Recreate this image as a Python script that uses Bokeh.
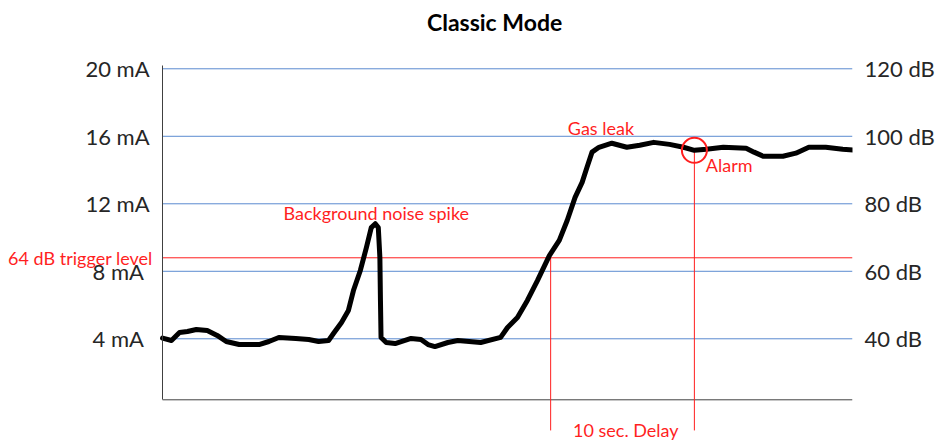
from bokeh.plotting import figure
from bokeh.models import (Range1d, LinearAxis, FixedTicker, Label)
from bokeh.embed import file_html
from bokeh.resources import INLINE

# ---- data ----
t_sec = [0, 0.62, 1.18, 1.73, 2.35, 3.11, 3.80, 4.43, 5.33, 6.71, 7.40, 8.09,
         9.27, 10.17, 10.86, 11.55, 11.89, 12.45, 12.93, 13.28, 13.76, 14.18,
         14.52, 14.80, 15.01, 15.12, 15.16, 15.2, 15.56, 16.18, 17.29, 17.98,
         18.47, 18.95, 19.85, 20.54, 22.13, 23.52, 24.0, 24.69, 25.38, 26.08,
         26.91, 27.60, 28.15, 28.70, 29.19, 29.53, 29.88, 30.36, 31.26, 32.30,
         33.20, 34.17, 35.27, 36.24, 37.0, 37.83, 39.01, 40.60, 41.15, 41.78,
         43.16, 44.06, 44.96, 46.14, 47.32, 48.21]
current_mA = [4.04, 3.90, 4.37, 4.43, 4.55, 4.49, 4.20, 3.84, 3.66, 3.66, 3.84, 4.08,
              4.02, 3.96, 3.84, 3.90, 4.31, 4.97, 5.68, 6.86, 8.05, 9.40,
              10.59, 10.82, 10.59, 8.81, 6.27, 4.08, 3.78, 3.72, 4.02, 3.96,
              3.66, 3.54, 3.78, 3.90, 3.78, 4.08, 4.67, 5.26, 6.27, 7.45,
              8.93, 9.83, 11.01, 12.38, 13.27, 14.17, 15.06, 15.35, 15.59, 15.35,
              15.47, 15.64, 15.52, 15.35, 15.17, 15.23, 15.35, 15.29, 15.06, 14.82,
              14.82, 15.00, 15.35, 15.35, 15.23, 15.17]

ma_ticks = [4, 8, 12, 16, 20]
ma_labels = ["4  mA", "8  mA", "12 mA", "16 mA", "20 mA"]
db_ticks = [40, 60, 80, 100, 120]
db_labels = ["40  dB", "60  dB", "80  dB", "100 dB", "120 dB"]

trigger_db = 64
trigger_t = 27.0      # time the signal crosses the trigger level
delay_sec = 10
alarm_t = trigger_t + delay_sec
alarm_mA = 15.17


def db_to_ma(db):
    return (db - 20) / 5.0


trigger_mA = db_to_ma(trigger_db)

# ---- layout ----
T_END = 48.0                 # right end of the chart area (s)
X0, X1 = -11.274, T_END      # visible range incl. left label margin
Y0, Y1 = -2.027, 24.047
BASE_MA = 0.385
AXIS_TOP = 20.2
MARK_BOTTOM = -1.43
FONT = "Lato"
RED = "#ff1f1f"
BLUE = "#5b8bd0"
DARK = "#262626"

p = figure(width=937, height=440, output_backend="svg", toolbar_location=None,
           title=None,
           x_range=Range1d(X0, X1), y_range=Range1d(Y0, Y1),
           x_axis_location=None, y_axis_location="left",
           min_border_left=0, min_border_right=80, min_border_top=0,
           min_border_bottom=0)
p.outline_line_color = None
p.xgrid.visible = False
p.ygrid.visible = False

# left axis, pinned at t = 0
ya = p.yaxis[0]
ya.fixed_location = 0
ya.ticker = FixedTicker(ticks=ma_ticks)
ya.major_label_overrides = {t: l for t, l in zip(ma_ticks, ma_labels)}
ya.bounds = (BASE_MA, AXIS_TOP)
ya.axis_line_color = "#404040"
ya.major_tick_line_color = None
ya.major_tick_out = 0
ya.major_tick_in = 0
ya.minor_tick_line_color = None
ya.major_label_standoff = 13
ya.major_label_text_font = FONT
ya.major_label_text_font_size = "22px"
ya.major_label_text_color = DARK

# right axis (dB)
p.extra_y_ranges = {"db": Range1d(20 + 5 * Y0, 20 + 5 * Y1)}
ra = LinearAxis(y_range_name="db", ticker=FixedTicker(ticks=db_ticks))
ra.major_label_overrides = {t: l for t, l in zip(db_ticks, db_labels)}
ra.axis_line_color = None
ra.major_tick_line_color = None
ra.major_tick_out = 0
ra.major_tick_in = 0
ra.minor_tick_line_color = None
ra.major_label_standoff = 12
ra.major_label_text_font = FONT
ra.major_label_text_font_size = "22px"
ra.major_label_text_color = DARK
p.add_layout(ra, "right")

# horizontal grid lines at the mA ticks
n = len(ma_ticks)
p.segment(x0=[0] * n, y0=ma_ticks, x1=[T_END] * n, y1=ma_ticks,
          line_color=BLUE, line_width=1)

# baseline (x axis line)
p.segment(x0=[0], y0=[BASE_MA], x1=[T_END], y1=[BASE_MA], line_color="#404040", line_width=1)

# trigger level
p.segment(x0=[0], y0=[trigger_mA], x1=[T_END], y1=[trigger_mA], line_color=RED, line_width=1)

# delay markers
p.segment(x0=[trigger_t, alarm_t], y0=[trigger_mA, alarm_mA],
          x1=[trigger_t, alarm_t], y1=[MARK_BOTTOM, MARK_BOTTOM], line_color=RED, line_width=1)

# signal
p.line(t_sec, current_mA, line_color="black", line_width=5, line_join="round", line_cap="round")

# alarm circle
p.scatter([alarm_t], [alarm_mA], marker="circle", size=25, fill_color=None,
          line_color=RED, line_width=2)


# texts
def lab(x, y, text, align="center", baseline="middle", size="18px", color=RED, style="normal"):
    p.add_layout(Label(x=x, y=y, text=text, text_font=FONT, text_font_size=size,
                       text_color=color, text_align=align, text_baseline=baseline,
                       text_font_style=style))


lab(23.10, 22.80, "Classic Mode", size="23px", color="black", style="bold")
lab(14.87, 11.43, "Background noise spike")
lab(30.5, 16.52, "Gas leak")
lab(39.42, 14.27, "Alarm")
lab(32.23, MARK_BOTTOM, "10 sec. Delay", baseline="alphabetic")
lab(-0.69, trigger_mA, "64 dB trigger level", align="right", size="18px")

open("out.html", "w").write(file_html(p, INLINE))
